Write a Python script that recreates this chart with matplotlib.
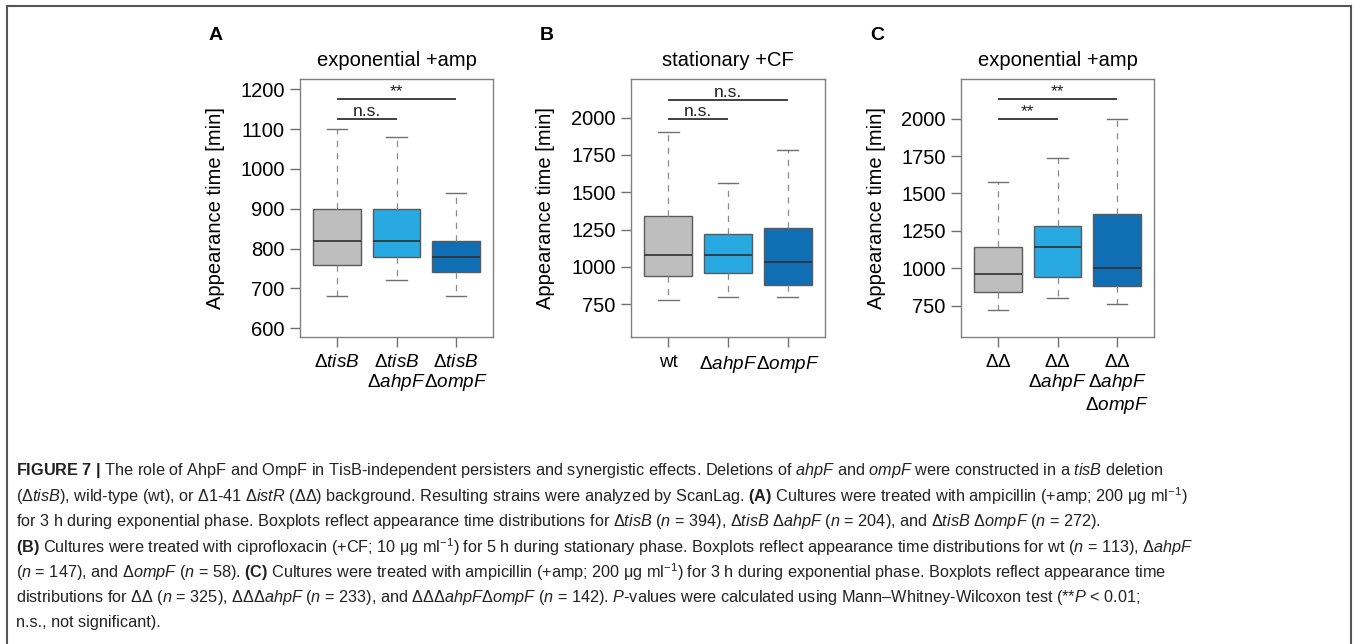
import matplotlib
matplotlib.use("Agg")
import matplotlib.pyplot as plt
from matplotlib.lines import Line2D

plt.rcParams["font.family"] = "Liberation Sans"
plt.rcParams["mathtext.fontset"] = "custom"
plt.rcParams["mathtext.rm"] = "Liberation Sans"
plt.rcParams["mathtext.it"] = "Liberation Sans:italic"
plt.rcParams["mathtext.bf"] = "Liberation Sans:bold"

# ---- data ----
a_labels = [r"$\Delta\mathit{tisB}$",
            r"$\Delta\mathit{tisB}$" + "\n" + r"$\Delta\mathit{ahpF}$",
            r"$\Delta\mathit{tisB}$" + "\n" + r"$\Delta\mathit{ompF}$"]
a_low = [680, 720, 680]
a_q1 = [760, 780, 740]
a_med = [820, 820, 780]
a_q3 = [900, 900, 820]
a_high = [1100, 1080, 940]
a_sig = [(1, 2, 1125, "n.s."), (1, 3, 1175, "**")]
a_ticks = [600, 700, 800, 900, 1000, 1100, 1200]

b_labels = ["wt", r"$\Delta\mathit{ahpF}$", r"$\Delta\mathit{ompF}$"]
b_low = [780, 800, 800]
b_q1 = [940, 960, 880]
b_med = [1080, 1080, 1030]
b_q3 = [1340, 1220, 1260]
b_high = [1900, 1560, 1780]
b_sig = [(1, 2, 1987, "n.s."), (1, 3, 2120, "n.s.")]
b_ticks = [750, 1000, 1250, 1500, 1750, 2000]

c_labels = [r"$\Delta\Delta$",
            r"$\Delta\Delta$" + "\n" + r"$\Delta\mathit{ahpF}$",
            r"$\Delta\Delta$" + "\n" + r"$\Delta\mathit{ahpF}$" + "\n" + r"$\Delta\mathit{ompF}$"]
c_low = [720, 800, 760]
c_q1 = [840, 940, 880]
c_med = [960, 1140, 1000]
c_q3 = [1140, 1280, 1360]
c_high = [1580, 1740, 2000]
c_sig = [(1, 2, 1998, "**"), (1, 3, 2132, "**")]
c_ticks = [750, 1000, 1250, 1500, 1750, 2000]

box_colors = ["#bebebe", "#29a9e1", "#106eb5"]

caption = [
    r"$\mathbf{FIGURE\ 7\ |}$ The role of AhpF and OmpF in TisB-independent persisters and synergistic effects. "
    r"Deletions of $\mathit{ahpF}$ and $\mathit{ompF}$ were constructed in a $\mathit{tisB}$ deletion",
    r"($\Delta\mathit{tisB}$), wild-type (wt), or $\Delta$1-41 $\Delta\mathit{istR}$ ($\Delta\Delta$) background. "
    r"Resulting strains were analyzed by ScanLag. $\mathbf{(A)}$ Cultures were treated with ampicillin "
    r"(+amp; 200 μg ml$^{-1}$)",
    r"for 3 h during exponential phase. Boxplots reflect appearance time distributions for "
    r"$\Delta\mathit{tisB}$ ($\mathit{n}$ = 394), $\Delta\mathit{tisB}$ $\Delta\mathit{ahpF}$ ($\mathit{n}$ = 204), "
    r"and $\Delta\mathit{tisB}$ $\Delta\mathit{ompF}$ ($\mathit{n}$ = 272).",
    r"$\mathbf{(B)}$ Cultures were treated with ciprofloxacin (+CF; 10 μg ml$^{-1}$) for 5 h during stationary phase. "
    r"Boxplots reflect appearance time distributions for wt ($\mathit{n}$ = 113), $\Delta\mathit{ahpF}$",
    r"($\mathit{n}$ = 147), and $\Delta\mathit{ompF}$ ($\mathit{n}$ = 58). $\mathbf{(C)}$ Cultures were treated "
    r"with ampicillin (+amp; 200 μg ml$^{-1}$) for 3 h during exponential phase. Boxplots reflect appearance time",
    r"distributions for $\Delta\Delta$ ($\mathit{n}$ = 325), $\Delta\Delta\Delta\mathit{ahpF}$ ($\mathit{n}$ = 233), "
    r"and $\Delta\Delta\Delta\mathit{ahpF}\Delta\mathit{ompF}$ ($\mathit{n}$ = 142). $\mathit{P}$-values were "
    r"calculated using Mann–Whitney-Wilcoxon test (**$\mathit{P}$ < 0.01;",
    r"n.s., not significant).",
]

W, H = 1357, 644
fig = plt.figure(figsize=(W / 100, H / 100), dpi=100)


def rect(left, top, right, bottom):
    return [left / W, 1 - bottom / H, (right - left) / W, (bottom - top) / H]


def panel(pos, letter, title, labels, low, q1, med, q3, high, sig, ticks, ylim):
    ax = fig.add_axes(rect(*pos))
    stats = [dict(whislo=lo, q1=a, med=m, q3=b, whishi=hi, fliers=[])
             for lo, a, m, b, hi in zip(low, q1, med, q3, high)]
    bp = ax.bxp(stats, widths=0.8, capwidths=0.35, patch_artist=True, showfliers=False,
                boxprops=dict(edgecolor="#5a5a5a", linewidth=1.0),
                medianprops=dict(color="#303030", linewidth=1.2),
                whiskerprops=dict(color="#8a8a8a", linewidth=0.9, linestyle=(0, (5, 5))),
                capprops=dict(color="#707070", linewidth=1.0))
    for patch, col in zip(bp["boxes"], box_colors):
        patch.set_facecolor(col)
    for x1, x2, y, txt in sig:
        ax.plot([x1, x2], [y, y], color="#404040", lw=1.4, solid_capstyle="butt")
        ax.text((x1 + x2) / 2, y, txt, ha="center", va="bottom", fontsize=12.5, color="#202020")
    ax.set_xlim(0.38, 3.62)
    ax.set_ylim(*ylim)
    ax.set_yticks(ticks)
    ax.set_xticks([1, 2, 3])
    ax.tick_params(axis="both", length=7, width=1, color="#707070", labelsize=14.5, pad=4)
    ax.set_xticklabels(labels, fontsize=13.6, va="top", linespacing=1.12)
    ax.tick_params(axis="x", pad=5)
    for sp in ax.spines.values():
        sp.set_color("#808080")
        sp.set_linewidth(1.0)
    ax.set_ylabel("Appearance time [min]", fontsize=14.5)
    ax.yaxis.set_label_coords(-0.39, 0.5)
    ax.set_title(title, fontsize=14.5, pad=9)
    fig.text((pos[0] - 91) / W, 1 - 35 / H, letter, fontsize=14, fontweight="bold", va="center")
    return ax


panel((300, 79, 493, 337), "A", "exponential +amp", a_labels, a_low, a_q1, a_med, a_q3, a_high,
      a_sig, a_ticks, (578, 1226))
panel((631, 79, 825, 337), "B", "stationary +CF", b_labels, b_low, b_q1, b_med, b_q3, b_high,
      b_sig, b_ticks, (531, 2258))
panel((961, 79, 1154, 337), "C", "exponential +amp", c_labels, c_low, c_q1, c_med, c_q3, c_high,
      c_sig, c_ticks, (541, 2265))

# caption
for i, line in enumerate(caption):
    fig.text(16 / W, 1 - (471 + i * 25.3) / H, line, fontsize=11.7, va="center", ha="left", color="#222222")

# frame around the figure
fr = dict(color="#555555", lw=1.5, transform=fig.transFigure)
fig.add_artist(Line2D([7 / W, 1351 / W], [1 - 6 / H, 1 - 6 / H], **fr))
fig.add_artist(Line2D([7 / W, 7 / W], [0, 1 - 6 / H], **fr))
fig.add_artist(Line2D([1351 / W, 1351 / W], [0, 1 - 6 / H], **fr))

fig.savefig("out.png", dpi=100)
